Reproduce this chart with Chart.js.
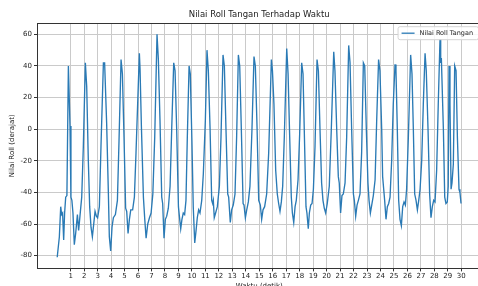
<!DOCTYPE html>
<html>
<head>
<meta charset="utf-8">
<title>Nilai Roll Tangan</title>
<script src="https://cdn.jsdelivr.net/npm/chart.js@4.4.1/dist/chart.umd.min.js"></script>
<style>
  html, body { margin: 0; padding: 0; background: #fff; overflow: hidden; }
  #wrap { width: 478px; height: 286px; overflow: hidden; }
  canvas { display: block; }
</style>
</head>
<body>
<div id="wrap"><canvas id="rollChart" width="490" height="300"></canvas></div>
<script>
// ─── Data ───

var chartTitle = "Nilai Roll Tangan Terhadap Waktu";
var seriesLabel = "Nilai Roll Tangan";
var xAxisLabel = "Waktu (detik)";
var yAxisLabel = "Nilai Roll (derajat)";

var timeValues = [
  0.00, 0.16, 0.26, 0.33, 0.40, 0.48, 0.55, 0.63, 0.72, 0.83, 0.95,
  1.02, 1.09, 1.17, 1.27, 1.37, 1.50, 1.59, 1.69, 1.82, 1.94, 2.09, 2.19,
  2.31, 2.41, 2.51, 2.61, 2.71, 2.81, 2.91, 3.00, 3.13, 3.25, 3.43, 3.52,
  3.67, 3.80, 3.87, 3.97, 4.07, 4.17, 4.32, 4.47, 4.59, 4.74, 4.84, 4.96,
  5.08, 5.16, 5.26, 5.36, 5.46, 5.60, 5.73, 5.85, 6.10, 6.15, 6.25, 6.40,
  6.50, 6.60, 6.72, 6.85, 6.97, 7.10, 7.24, 7.41, 7.51, 7.63, 7.76, 7.83,
  7.93, 8.03, 8.13, 8.25, 8.38, 8.50, 8.65, 8.75, 8.87, 9.00, 9.07, 9.17,
  9.26, 9.36, 9.46, 9.56, 9.66, 9.79, 9.88, 10.00, 10.10, 10.21, 10.31,
  10.40, 10.50, 10.60, 10.73, 10.85, 11.00, 11.12, 11.22, 11.35, 11.47,
  11.54, 11.59, 11.66, 11.76, 11.89, 12.04, 12.16, 12.31, 12.41, 12.53,
  12.66, 12.73, 12.85, 12.95, 13.07, 13.20, 13.32, 13.45, 13.55, 13.67,
  13.80, 13.87, 13.97, 14.07, 14.19, 14.31, 14.46, 14.61, 14.71, 14.84,
  14.96, 15.08, 15.18, 15.28, 15.40, 15.55, 15.70, 15.90, 15.98, 16.09,
  16.22, 16.34, 16.44, 16.54, 16.64, 16.74, 16.86, 17.04, 17.14, 17.26,
  17.38, 17.46, 17.56, 17.66, 17.75, 17.88, 18.00, 18.15, 18.25, 18.37,
  18.47, 18.54, 18.64, 18.72, 18.82, 18.92, 19.02, 19.14, 19.29, 19.39,
  19.51, 19.63, 19.73, 19.83, 19.93, 20.05, 20.20, 20.35, 20.53, 20.62,
  20.75, 20.87, 20.94, 21.04, 21.14, 21.24, 21.37, 21.49, 21.64, 21.74,
  21.86, 21.99, 22.06, 22.16, 22.26, 22.36, 22.48, 22.60, 22.73, 22.83,
  22.95, 23.07, 23.15, 23.25, 23.35, 23.47, 23.60, 23.72, 23.86, 23.96,
  24.09, 24.16, 24.24, 24.31, 24.41, 24.51, 24.61, 24.71, 24.83, 24.95,
  25.08, 25.15, 25.25, 25.35, 25.45, 25.55, 25.65, 25.75, 25.85, 25.94,
  26.07, 26.24, 26.34, 26.44, 26.54, 26.64, 26.74, 26.84, 26.94, 27.06,
  27.18, 27.31, 27.40, 27.53, 27.65, 27.75, 27.85, 27.95, 28.05, 28.17,
  28.29, 28.42, 28.47, 28.52, 28.67, 28.77, 28.86, 28.96, 29.03, 29.09,
  29.16, 29.24, 29.31, 29.41, 29.51, 29.61, 29.71, 29.83, 29.90, 29.98
];

var rollValues = [
  -81, -68, -49, -54, -53, -70, -53, -43, -42, 40, 2,
  -43, -45, -53, -73, -66, -54, -64, -55, -43, -11, 42, 27,
  -20, -49, -62, -68, -60, -52, -55, -56, -49, -11, 42, 42,
  4, -41, -68, -77, -62, -56, -54, -45, -7, 44, 35, -5,
  -50, -52, -66, -57, -51, -51, -43, -15, 48, 38, 2, -43,
  -57, -69, -60, -56, -53, -41, -5, 60, 44, 6, -43, -47,
  -69, -57, -55, -50, -36, 0, 42, 37, 0, -49, -55, -63,
  -57, -53, -54, -45, -5, 40, 35, -7, -49, -72, -64,
  -56, -51, -53, -45, -28, 6, 50, 37, 0, -45,
  -47, -45, -56, -53, -49, -36, -5, 47, 40, 0,
  -41, -43, -59, -51, -48, -41, -5, 47, 40, 0,
  -47, -48, -56, -51, -46, -36, 0, 46, 40, 0,
  -45, -48, -57, -51, -49, -41, -15, 44, 37, 16,
  -26, -41, -47, -52, -46, -36, -5, 51, 35, -5,
  -43, -53, -59, -49, -45, -32, -3, 42, 35, -11,
  -49, -53, -63, -53, -48, -47, -38, -11, 44, 37,
  0, -34, -45, -50, -53, -47, -36, 0, 49, 37,
  0, -30, -34, -53, -42, -41, -34, -5, 53, 42,
  0, -41, -45, -55, -48, -45, -41, -15, 42, 40,
  0, -34, -45, -53, -48, -42, -32, 6, 44, 37,
  0, -30, -38, -45, -57, -49, -47, -43, -20, 16,
  41, 37, 0, -45, -57, -61, -49, -46, -48, -38,
  -5, 47, 35, 0, -41, -45, -51, -45, -38, -20,
  16, 48, 37, 0, -41, -56, -49, -45, -46, -26,
  16, 57, 42, 45, 0, -43, -47, -46, -36, 40,
  16, -38, -34, -22, 40, 37, -5, -38, -40, -47
];

var xTickValues = [
  1, 2, 3, 4, 5, 6, 7, 8, 9, 10, 11, 12, 13, 14, 15,
  16, 17, 18, 19, 20, 21, 22, 23, 24, 25, 26, 27, 28, 29, 30
];
var yTickValues = [-80, -60, -40, -20, 0, 20, 40, 60];

// ─── Styling ───

var fontFamily = "'DejaVu Sans', sans-serif";
var lineBlue = "#2a7ab5";
var gridGray = "#cacaca";
var spineColor = "#333333";

// top/right spines, like a matplotlib axes frame
var frameSpines = {
  id: "frameSpines",
  afterDatasetsDraw: function (chart) {
    var a = chart.chartArea;
    var ctx = chart.ctx;
    ctx.save();
    ctx.strokeStyle = spineColor;
    ctx.lineWidth = 1;
    ctx.beginPath();
    ctx.moveTo(a.left, Math.round(a.top) + 0.5);
    ctx.lineTo(a.right, Math.round(a.top) + 0.5);
    ctx.moveTo(Math.round(a.right) + 0.5, a.top);
    ctx.lineTo(Math.round(a.right) + 0.5, a.bottom);
    ctx.stroke();
    ctx.restore();
  },
};

// legend drawn inside the plot, upper right
var insideLegend = {
  id: "insideLegend",
  afterDraw: function (chart) {
    var ds = chart.data.datasets[0];
    var a = chart.chartArea;
    var ctx = chart.ctx;
    ctx.save();
    ctx.font = "6.5px " + fontFamily;
    var tw = ctx.measureText(ds.label).width;
    var w = tw + 27;
    var h = 13;
    var right = a.right - 3.5;
    var top = a.top + 3;
    var left = right - w;

    ctx.fillStyle = "rgba(255,255,255,0.85)";
    ctx.strokeStyle = "#d4d4d4";
    ctx.lineWidth = 1;
    ctx.beginPath();
    ctx.roundRect(left + 0.5, top + 0.5, w, h, 2);
    ctx.fill();
    ctx.stroke();

    ctx.strokeStyle = ds.borderColor;
    ctx.lineWidth = 1.3;
    ctx.beginPath();
    ctx.moveTo(left + 4, top + h / 2 + 0.5);
    ctx.lineTo(left + 17, top + h / 2 + 0.5);
    ctx.stroke();

    ctx.fillStyle = "#222";
    ctx.textBaseline = "middle";
    ctx.fillText(ds.label, left + 22, top + h / 2 + 1);
    ctx.restore();
  },
};

// ─── Chart Rendering ───

function renderRollChart() {
  var canvas = document.getElementById("rollChart");
  if (!canvas) return;

  var points = timeValues.map(function (t, i) {
    return { x: t, y: rollValues[i] };
  });

  new Chart(canvas, {
    type: "line",
    data: {
      datasets: [
        {
          label: seriesLabel,
          data: points,
          borderColor: lineBlue,
          backgroundColor: lineBlue,
          borderWidth: 1.35,
          pointRadius: 0,
          tension: 0,
          fill: false,
        },
      ],
    },
    options: {
      responsive: false,
      animation: false,
      layout: { padding: { left: 0, right: 8.5, top: 0, bottom: 0 } },
      plugins: {
        legend: { display: false },
        tooltip: { enabled: false },
        title: {
          display: true,
          text: chartTitle,
          fullSize: false,
          color: "#222",
          font: { family: fontFamily, size: 8.5, weight: "normal", lineHeight: 1.2 },
          padding: { top: 10, bottom: 3 },
        },
      },
      scales: {
        x: {
          type: "linear",
          min: -1.5,
          max: 31.5,
          afterBuildTicks: function (axis) {
            axis.ticks = xTickValues.map(function (v) { return { value: v }; });
          },
          afterFit: function (axis) {
            axis.height = 31.6;
          },
          grid: { color: gridGray, lineWidth: 1, tickColor: spineColor, tickLength: 3 },
          border: { color: spineColor, width: 1 },
          ticks: {
            autoSkip: false,
            maxRotation: 0,
            padding: 1,
            color: "#222",
            font: { family: fontFamily, size: 7 },
          },
          title: {
            display: true,
            text: xAxisLabel,
            color: "#222",
            font: { family: fontFamily, size: 7 },
            padding: { top: 2, bottom: 9.3 },
          },
        },
        y: {
          type: "linear",
          min: -88.05,
          max: 67.05,
          afterBuildTicks: function (axis) {
            axis.ticks = yTickValues.map(function (v) { return { value: v }; });
          },
          afterFit: function (axis) {
            axis.width = 37;
          },
          grid: { color: gridGray, lineWidth: 1, tickColor: spineColor, tickLength: 3 },
          border: { color: spineColor, width: 1 },
          ticks: {
            padding: 2,
            color: "#222",
            font: { family: fontFamily, size: 7 },
          },
          title: {
            display: true,
            text: yAxisLabel,
            color: "#222",
            font: { family: fontFamily, size: 7 },
            padding: { top: 8, bottom: 0 },
          },
        },
      },
    },
    plugins: [frameSpines, insideLegend],
  });
}

// ─── Init ───

document.addEventListener("DOMContentLoaded", function () {
  renderRollChart();
});
</script>
</body>
</html>
